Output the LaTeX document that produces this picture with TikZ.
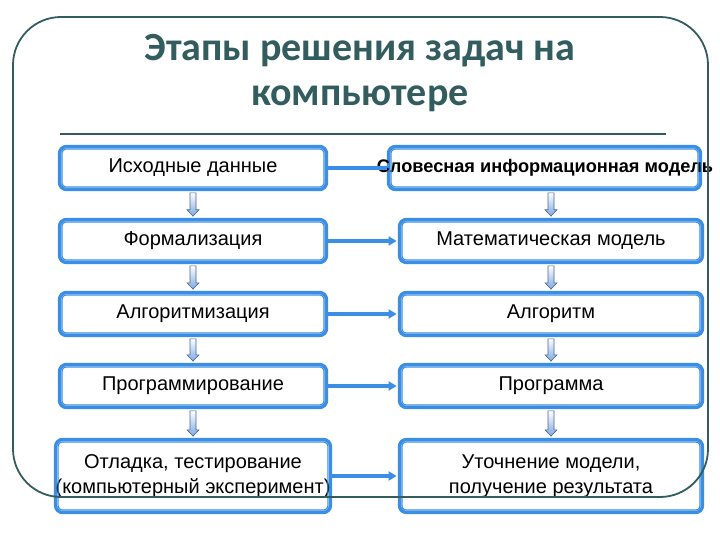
\documentclass[tikz,border=0pt]{standalone}
\usepackage{fontspec}
\setmainfont{Liberation Sans}
\newfontfamily\titlefont{Carlito}
\usetikzlibrary{arrows.meta,calc}
\definecolor{boxblue}{RGB}{58,142,228}
\definecolor{slate}{RGB}{50,92,94}
\definecolor{arrfill}{RGB}{125,168,226}
\definecolor{arredge}{RGB}{70,100,150}
\tikzset{
  stagebox/.style={draw=boxblue, line width=3.4pt, rounded corners=7pt, fill=white,
    inner sep=0pt, align=center, font=\fontsize{20}{25}\selectfont},
  lbox/.style={stagebox, minimum width=267pt, minimum height=43pt},
  rbox/.style={stagebox, minimum width=303pt, minimum height=43pt},
  innerline/.style={draw=boxblue, line width=1.1pt, rounded corners=4pt},
  harrow/.style={draw=boxblue, line width=3.2pt, -{Triangle[length=8pt,width=9pt]}, shorten >=1.2pt},
  hline/.style={draw=boxblue, line width=3.2pt},
  darr/.style={draw=arredge, line width=0.6pt, top color=white, bottom color=arrfill},
  frameline/.style={draw=slate, line width=1.8pt, rounded corners=48pt},
  titlestyle/.style={text=slate, font=\titlefont\bfseries\fontsize{40}{48}\selectfont, inner sep=0pt, anchor=base}
}
\newcommand\downarr[2]{%
  \path[darr] let \p1=(#2.north |- #1.south), \p2=(#2.north) in
   (\x1-3pt,\y1-1.7pt) -- (\x1+3pt,\y1-1.7pt) -- (\x1+3pt,\y2+8pt) -- (\x1+6pt,\y2+8pt)
   -- (\x1,\y2+1.7pt) -- (\x1-6pt,\y2+8pt) -- (\x1-3pt,\y2+8pt) -- cycle;}
\begin{document}
\begin{tikzpicture}[x=1pt,y=-1pt]
\useasboundingbox[fill=white] (0,0) rectangle (720,540);
% title
\node[titlestyle] (t1) at (360,61) {Этапы решения задач на};
\node[titlestyle] (t2) at (360,106) {компьютере};
\coordinate (r1) at (60,134);
\coordinate (r2) at (666,134);
\draw[slate, line width=2.8pt] (r1) -- (r2);
% left column
\node[lbox] (L1) at (193,168) {Исходные данные};
\node[lbox] (L2) at (193,241) {Формализация};
\node[lbox] (L3) at (193,314) {Алгоритмизация};
\node[lbox] (L4) at (193,386) {Программирование};
\node[lbox, minimum height=73pt] (L5) at (193,476) {Отладка, тестирование\\(компьютерный эксперимент)};
% right column
\node[rbox, minimum width=312pt] (R1) at (544.5,168) {};
\node[font=\bfseries\fontsize{18.2}{22}\selectfont, inner sep=0pt] (R1t) at (545,168) {Словесная информационная модель};
\node[rbox] (R2) at (551,241) {Математическая модель};
\node[rbox] (R3) at (551,314) {Алгоритм};
\node[rbox] (R4) at (551,386) {Программа};
\node[rbox, minimum height=73pt] (R5) at (551,476) {Уточнение модели,\\получение результата};
% inner lines
\foreach \n in {L1,L2,L3,L4,L5,R1,R2,R3,R4,R5}
  \draw[innerline] ([xshift=4.2pt,yshift=-4.2pt]\n.north west) rectangle ([xshift=-4.2pt,yshift=4.2pt]\n.south east);
% horizontal connectors
\draw[hline] (L1.east) -- (R1.west);
\draw[harrow] (L2.east) -- (R2.west);
\draw[harrow] (L3.east) -- (R3.west);
\draw[harrow] (L4.east) -- (R4.west);
\draw[harrow] (L5.east) -- (R5.west);
% vertical block arrows
\downarr{L1}{L2}\downarr{L2}{L3}\downarr{L3}{L4}\downarr{L4}{L5}
\downarr{R1}{R2}\downarr{R2}{R3}\downarr{R3}{R4}\downarr{R4}{R5}
% frame
\coordinate (f1) at (13,17);
\coordinate (f2) at (708,497);
\draw[frameline] (f1) rectangle (f2);
\end{tikzpicture}
\end{document}
